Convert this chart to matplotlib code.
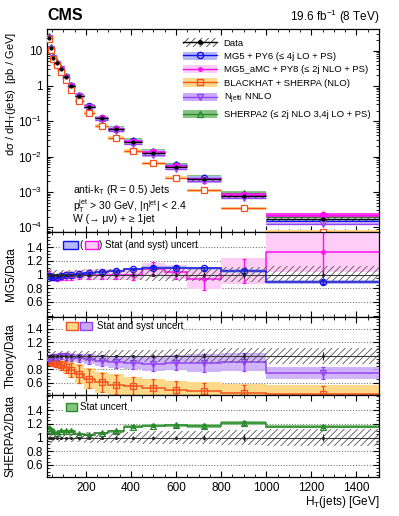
import numpy as np
import matplotlib
matplotlib.use("Agg")
import matplotlib.pyplot as plt
from matplotlib.patches import Patch, Rectangle
from matplotlib.lines import Line2D
from matplotlib.ticker import MultipleLocator, FixedLocator, LogLocator, FuncFormatter, NullFormatter

plt.rcParams.update({"font.family": ["Liberation Sans", "DejaVu Sans"],
                     "mathtext.default": "regular", "hatch.linewidth": 0.6,
                     "xtick.direction": "in", "ytick.direction": "in",
                     "xtick.top": True, "ytick.right": True,
                     "xtick.minor.visible": True, "ytick.minor.visible": True})

# HT bins [GeV]
edges = [30, 40, 50, 60, 80, 100, 120, 150, 190, 240, 300, 370, 450, 550, 650, 800, 1000, 1500]
# measured dsigma/dHT [pb/GeV]
data = [23.3, 11.7, 6.3, 4.4, 2.97, 1.76, 1.0, 0.52, 0.26, 0.12, 0.059, 0.026,
        0.0123, 0.0051, 0.0023, 7.6e-4, 1.7e-4]
data_stat = [0.005, 0.005, 0.005, 0.005, 0.005, 0.006, 0.007, 0.008, 0.01, 0.012, 0.015,
             0.018, 0.022, 0.028, 0.035, 0.045, 0.055]
data_syst = [0.08, 0.075, 0.07, 0.07, 0.07, 0.07, 0.07, 0.07, 0.075, 0.075, 0.08, 0.085,
             0.09, 0.095, 0.1, 0.11, 0.12]

# prediction / data
mg5 = [0.98, 0.965, 0.96, 0.965, 0.98, 0.99, 1.0, 1.01, 1.02, 1.03, 1.05, 1.08, 1.10, 1.10, 1.09, 1.05, 0.89]
mg5_err = [0.01, 0.01, 0.01, 0.01, 0.01, 0.01, 0.012, 0.014, 0.016, 0.018, 0.02, 0.02, 0.022,
           0.024, 0.025, 0.028, 0.03]
amc = [1.0, 0.98, 0.96, 0.95, 0.97, 0.98, 0.98, 0.99, 1.0, 1.0, 1.0, 1.0, 1.08, 1.04, 0.94, 1.05, 1.33]
amc_err = [0.05, 0.04, 0.04, 0.05, 0.05, 0.06, 0.06, 0.06, 0.07, 0.07, 0.07, 0.08, 0.1, 0.1,
           0.17, 0.18, 0.33]
amc_band = [0.07, 0.06, 0.06, 0.06, 0.06, 0.07, 0.07, 0.07, 0.08, 0.08, 0.08, 0.08, 0.09, 0.1,
            0.15, 0.19, 0.3]
bh = [0.93, 0.91, 0.90, 0.88, 0.86, 0.83, 0.79, 0.73, 0.66, 0.61, 0.57, 0.55, 0.52, 0.50, 0.48, 0.45, 0.43]
bh_err = [0.02, 0.03, 0.04, 0.05, 0.07, 0.09, 0.11, 0.13, 0.14, 0.14, 0.14, 0.13, 0.13, 0.12,
          0.12, 0.12, 0.12]
nj = [0.95, 0.97, 0.98, 0.98, 0.99, 0.99, 0.98, 0.97, 0.95, 0.93, 0.91, 0.90, 0.88, 0.90, 0.89, 0.91, 0.74]
nj_err = [0.03, 0.03, 0.03, 0.04, 0.04, 0.05, 0.05, 0.06, 0.07, 0.08, 0.09, 0.1, 0.1, 0.11,
          0.13, 0.13, 0.09]
sh = [1.14, 1.11, 1.09, 1.07, 1.10, 1.10, 1.09, 1.05, 1.04, 1.06, 1.09, 1.16, 1.17, 1.18, 1.17, 1.21, 1.16]
sh_err = [0.02, 0.02, 0.015, 0.015, 0.015, 0.015, 0.015, 0.015, 0.015, 0.015, 0.02, 0.02,
          0.02, 0.02, 0.025, 0.025, 0.025]

BLUE, BLUE_B = "#1010f0", "#b4b8f4"
MAG, MAG_B = "#ff10f0", "#ffcdf6"
ORA, ORA_B = "#f4511e", "#ffd98a"
PUR, PUR_B = "#9544f5", "#c9a9fb"
GRN, GRN_B = "#2a8a2a", "#86c486"

edges = np.array(edges, float)
cen = 0.5 * (edges[1:] + edges[:-1])
hw = 0.5 * (edges[1:] - edges[:-1])
data = np.array(data)

fig = plt.figure(figsize=(3.99, 5.16), dpi=100)
L, W = 0.119, 0.831
ax0 = fig.add_axes([L, 0.551, W, 0.3928])
ax1 = fig.add_axes([L, 0.385, W, 0.1659], sharex=ax0)
ax2 = fig.add_axes([L, 0.2345, W, 0.1506], sharex=ax0)
ax3 = fig.add_axes([L, 0.075, W, 0.1595], sharex=ax0)


def model(ax, v, err, band, c, bc, m, mfc, ms=4.5, z=2, balpha=1.0):
    v = np.asarray(v)
    band = np.asarray(band)
    ax.stairs(v + band, edges, baseline=v - band, fill=True,
              color=bc, alpha=balpha, lw=0, zorder=z)
    ax.stairs(v, edges, baseline=None, color=c, lw=1.1, zorder=z + 0.2)
    ax.errorbar(cen, v, yerr=err, fmt=m, color=c, mfc=mfc, mec=c, ms=ms, mew=0.9,
                lw=1.0, capsize=1.2, zorder=z + 0.3)


def data_ratio(ax):
    s = np.array(data_syst)
    ax.stairs(1 + s, edges, baseline=1 - s, fill=True, facecolor="none",
              edgecolor="#555555", hatch="/////", lw=0, zorder=4)
    ax.plot([30, 1500], [1, 1], color="#333333", lw=0.7, zorder=4)
    ax.errorbar(cen, np.ones(len(cen)), yerr=data_stat, fmt="o", color="#222222",
                ms=1.2, lw=0.8, zorder=4)


# ---------------- main panel ----------------
ax = ax0
for r, e, c, bc, m, mfc, z in [(sh, sh_err, GRN, GRN_B, "^", "none", 2),
                               (mg5, mg5_err, BLUE, BLUE_B, "o", "none", 3),
                               (amc, amc_band, MAG, MAG_B, "o", MAG, 4),
                               (nj, nj_err, PUR, PUR_B, "v", "none", 5),
                               (bh, bh_err, ORA, ORA_B, "s", "white", 6)]:
    pred = data * np.array(r)
    be = np.clip(np.array(e), 0.12, 0.15)
    ax.stairs(pred * (1 + be), edges, baseline=pred * (1 - be * 0.8), fill=True,
              color=bc if c != MAG else MAG, alpha=1.0 if c != MAG else 0.8, lw=0, zorder=z)
    ax.errorbar(cen, pred, xerr=hw, yerr=pred * np.array(e), fmt=m, color=c, mfc=mfc,
                mec=c, ms=4.5, mew=0.9, lw=1.0, capsize=0, zorder=z + 0.5)
syst = np.array(data_syst)
ax.stairs(data * (1 + syst), edges, baseline=data * (1 - syst), fill=True, facecolor="none",
          edgecolor="#444444", hatch="/////", lw=0, zorder=8)
ax.errorbar(cen, data, xerr=hw, yerr=data * np.array(data_stat), fmt="o", color="black",
            ms=2, lw=0.9, zorder=9)
ax.set_yscale("log")
ax.set_ylim(7.5e-5, 41)
ax.set_xlim(30, 1500)
ax.yaxis.set_major_locator(LogLocator(base=10, numticks=10))
ax.yaxis.set_minor_locator(LogLocator(base=10, subs=np.arange(2, 10), numticks=20))
ax.yaxis.set_minor_formatter(NullFormatter())


def logfmt(y, pos):
    if abs(y - 10) < 1e-6:
        return "10"
    if abs(y - 1) < 1e-9:
        return "1"
    return r"$10^{%d}$" % round(np.log10(y))


ax.yaxis.set_major_formatter(FuncFormatter(logfmt))
ax.set_ylabel(r"d$\sigma$ / dH$_T$(jets)  [pb / GeV]", fontsize=8)
ax.yaxis.set_label_coords(-0.09, 0.68)

handles = [
    (Patch(facecolor="none", edgecolor="#444444", hatch="/////", lw=0),
     Line2D([], [], color="black", marker="o", ms=2.5, lw=1)),
    (Patch(facecolor=BLUE_B, lw=0), Line2D([], [], color=BLUE, marker="o", mfc="none", ms=4.5, lw=1)),
    (Patch(facecolor=MAG_B, lw=0), Line2D([], [], color=MAG, marker="o", ms=2.5, lw=1)),
    (Patch(facecolor=ORA_B, lw=0), Line2D([], [], color=ORA, marker="s", mfc="none", ms=4.5, lw=1)),
    (Patch(facecolor=PUR_B, lw=0), Line2D([], [], color=PUR, marker="v", mfc="none", ms=4.5, lw=1)),
    (Patch(facecolor=GRN_B, lw=0), Line2D([], [], color=GRN, marker="^", mfc="none", ms=4.5, lw=1)),
]
labels = ["Data", "MG5 + PY6 (≤ 4j LO + PS)", "MG5_aMC + PY8 (≤ 2j NLO + PS)",
          "BLACKHAT + SHERPA (NLO)", r"N$_{jetti}$ NNLO", "SHERPA2 (≤ 2j NLO 3,4j LO + PS)"]
ax.legend(handles, labels, loc="upper left", bbox_to_anchor=(0.409, 0.955), frameon=False,
          fontsize=6.8, handlelength=3.6, handleheight=1.0, handletextpad=0.7,
          labelspacing=0.42, borderpad=0, borderaxespad=0)

ax.text(0.077, 0.204, r"anti-k$_T$ (R = 0.5) Jets", transform=ax.transAxes, fontsize=7.5, va="center")
ax.text(0.077, 0.128, r"p$_T^{jet}$ > 30 GeV, |η$^{jet}$| < 2.4", transform=ax.transAxes,
        fontsize=7.5, va="center")
ax.text(0.077, 0.063, "W (→ μν) + ≥ 1jet", transform=ax.transAxes,
        fontsize=7.5, va="center")

fig.text(L, 0.962, "CMS", fontsize=11.5, weight="bold", va="baseline", ha="left")
fig.text(L + W, 0.960, r"19.6 fb$^{-1}$ (8 TeV)", fontsize=8.5, va="baseline", ha="right")

# ---------------- ratio panels ----------------
ratio_axes = [(ax1, (0.375, 1.625), "MG5/Data"),
              (ax2, (0.42, 1.57), "Theory/Data"),
              (ax3, (0.42, 1.62), "SHERPA2/Data")]
for a, lim, lab in ratio_axes:
    a.set_ylim(*lim)
    a.yaxis.set_major_locator(FixedLocator([0.4, 0.6, 0.8, 1.0, 1.2, 1.4]))
    a.yaxis.set_minor_locator(MultipleLocator(0.05))
    a.yaxis.set_major_formatter(FuncFormatter(lambda y, p: "" if y < 0.5 else "%g" % round(y, 2)))
    for g in (0.6, 0.8, 1.2, 1.4):
        a.axhline(g, color="#777777", lw=0.8, ls=(0, (1, 1.5)), zorder=1)
    a.set_ylabel(lab, fontsize=8.5)
    a.yaxis.set_label_coords(-0.092, 0.5)

for a in (ax0, ax1, ax2, ax3):
    a.tick_params(which="major", length=4.5, labelsize=8.5, width=0.8)
    a.tick_params(which="minor", length=2.5, width=0.6)
    a.xaxis.set_major_locator(MultipleLocator(200))
    a.xaxis.set_minor_locator(MultipleLocator(50))
    for sp in a.spines.values():
        sp.set_linewidth(0.9)
for a in (ax0, ax1, ax2):
    a.tick_params(labelbottom=False)

# MG5 panel
model(ax1, amc, amc_err, amc_band, MAG, MAG_B, "o", "none", ms=2.5, z=2)
model(ax1, mg5, mg5_err, mg5_err, BLUE, BLUE_B, "o", "none", z=3)
data_ratio(ax1)
# Theory panel
model(ax2, bh, bh_err, np.array(bh_err) * 1.1, ORA, ORA_B, "s", "none", z=2)
model(ax2, nj, nj_err, nj_err, PUR, PUR_B, "v", "none", z=3, balpha=0.85)
data_ratio(ax2)
# SHERPA2 panel
model(ax3, sh, sh_err, sh_err, GRN, GRN_B, "^", "none", z=2)
data_ratio(ax3)


def box(a, x0, x1, y0, y1, fc, ec):
    a.add_patch(Rectangle((x0, y0), x1 - x0, y1 - y0, transform=a.transAxes, facecolor=fc,
                          edgecolor=ec, lw=1.0, zorder=11, clip_on=False))


# ratio legends
ax1.add_patch(Rectangle((0.04, 0.81), 0.405, 0.07, transform=ax1.transAxes, facecolor="white",
                        lw=0, zorder=10))
box(ax1, 0.047, 0.092, 0.80, 0.89, BLUE_B, BLUE)
ax1.text(0.096, 0.845, "(", transform=ax1.transAxes, fontsize=7, va="center", zorder=12)
box(ax1, 0.113, 0.152, 0.80, 0.89, MAG_B, MAG)
ax1.text(0.156, 0.845, ") Stat (and syst) uncert", transform=ax1.transAxes, fontsize=7,
         va="center", zorder=12)

ax2.add_patch(Rectangle((0.05, 0.83), 0.355, 0.09, transform=ax2.transAxes, facecolor="white",
                        lw=0, zorder=10))
box(ax2, 0.056, 0.092, 0.84, 0.94, ORA_B, ORA)
box(ax2, 0.098, 0.134, 0.84, 0.94, PUR_B, PUR)
ax2.text(0.149, 0.89, "Stat and syst uncert", transform=ax2.transAxes, fontsize=7,
         va="center", zorder=12)

ax3.add_patch(Rectangle((0.05, 0.81), 0.19, 0.09, transform=ax3.transAxes, facecolor="white",
                        lw=0, zorder=10))
box(ax3, 0.056, 0.089, 0.81, 0.90, GRN_B, GRN)
ax3.text(0.098, 0.855, "Stat uncert", transform=ax3.transAxes, fontsize=7,
         va="center", zorder=12)

ax3.set_xlabel(r"H$_T$(jets) [GeV]", fontsize=8.5, loc="right")
ax3.xaxis.set_label_coords(1.0, -0.2)

fig.savefig("out.png", dpi=100)
